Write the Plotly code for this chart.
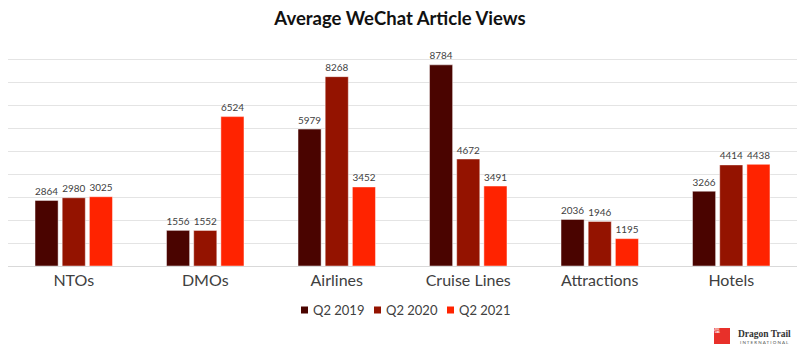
import plotly.graph_objects as go

categories = ["NTOs", "DMOs", "Airlines", "Cruise Lines", "Attractions", "Hotels"]
series_names = ["Q2 2019", "Q2 2020", "Q2 2021"]
q2_2019 = [2864, 1556, 5979, 8784, 2036, 3266]
q2_2020 = [2980, 1552, 8268, 4672, 1946, 4414]
q2_2021 = [3025, 6524, 3452, 3491, 1195, 4438]
colors = ["#4a0400", "#941300", "#ff2300"]

W, H = 800, 352
ML, MR, MT, MB = 8, 3, 37, 86
PW, PH = W - ML - MR, H - MT - MB

def px_x(x):
    return (x - ML) / PW

def px_y(y):
    return (H - MB - y) / PH

FONT = "Lato, 'Open Sans', sans-serif"

fig = go.Figure()
for name, vals, col in zip(series_names, [q2_2019, q2_2020, q2_2021], colors):
    fig.add_trace(go.Bar(
        x=categories, y=vals, name=name,
        marker=dict(color=col, line=dict(color="rgba(255,255,255,0.45)", width=1)),
        text=[str(v) for v in vals], textposition="outside",
        textfont=dict(size=12, color="#404040", family=FONT),
        cliponaxis=False, showlegend=False,
    ))

fig.update_layout(
    width=W, height=H,
    margin=dict(l=ML, r=MR, t=MT, b=MB),
    paper_bgcolor="white", plot_bgcolor="white",
    barmode="group", bargap=0.38, bargroupgap=0.15,
    title=dict(text="<b>Average WeChat Article Views</b>", x=0.5, xanchor="center",
               y=1 - 19 / H, yanchor="middle",
               font=dict(size=18.5, color="#111111", family=FONT)),
    font=dict(family=FONT, color="#404040"),
    xaxis=dict(showgrid=False, showline=True, linecolor="#d9d9d9", linewidth=1,
               tickfont=dict(size=16, color="#404040"), ticks="", ticklen=0),
    yaxis=dict(range=[0, 10000], dtick=1000, showgrid=True, gridcolor="#e4e4e4",
               gridwidth=1, showticklabels=False, zeroline=False, showline=False),
    showlegend=False,
)

# Compact legend (squares + labels) matching the reference
legend_x0 = 301
legend_step = 73
for i, (name, col) in enumerate(zip(series_names, colors)):
    x0 = legend_x0 + i * legend_step
    fig.add_shape(type="rect", xref="paper", yref="paper",
                  x0=px_x(x0), x1=px_x(x0 + 7), y0=px_y(313.5), y1=px_y(306.5),
                  fillcolor=col, line=dict(width=0))
    fig.add_annotation(xref="paper", yref="paper", x=px_x(x0 + 10), y=px_y(310),
                       xanchor="left", yanchor="middle", text=name, showarrow=False,
                       font=dict(size=13, color="#404040", family=FONT))

# Logo (Dragon Trail International)
fig.add_shape(type="rect", xref="paper", yref="paper",
              x0=px_x(714), x1=px_x(730), y0=px_y(344), y1=px_y(328),
              fillcolor="#e8302a", line=dict(width=0))
fig.add_annotation(xref="paper", yref="paper", x=px_x(722), y=px_y(336),
                   text="龍<br>徑", showarrow=False,
                   font=dict(size=6, color="white", family="Noto Sans CJK TC"))
fig.add_annotation(xref="paper", yref="paper", x=px_x(736), y=px_y(333.5),
                   xanchor="left", yanchor="middle",
                   text="<b>Dragon Trail</b>", showarrow=False,
                   font=dict(size=9.5, color="#333333", family="Liberation Serif"))
fig.add_annotation(xref="paper", yref="paper", x=px_x(738), y=px_y(342),
                   xanchor="left", yanchor="middle",
                   text="I N T E R N A T I O N A L", showarrow=False,
                   font=dict(size=4.5, color="#555555", family=FONT))

fig.write_html("out.html")
